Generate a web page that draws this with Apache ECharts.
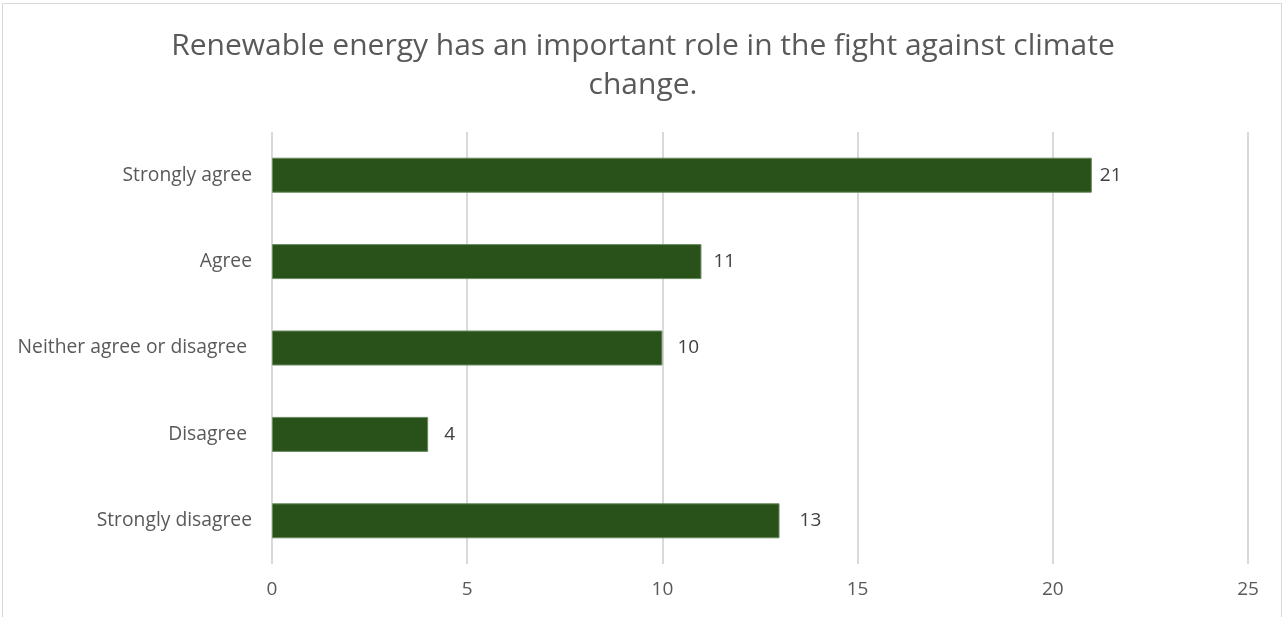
<!DOCTYPE html>
<html>
<head>
<meta charset="utf-8">
<script src="https://cdn.jsdelivr.net/npm/echarts@6/dist/echarts.min.js"></script>
<style>
  html, body { margin: 0; padding: 0; background: #fff; }
  #frame { position: absolute; left: 2px; top: 3px; width: 1280px; height: 620px; border: 1px solid #d9d9d9; box-sizing: border-box; }
  #chart { position: absolute; left: 0; top: 0; width: 1286px; height: 617px; }
</style>
</head>
<body>
<div id="frame"></div>
<div id="chart"></div>
<script>
// Survey responses, listed top to bottom
const categories = ['Strongly agree', 'Agree', 'Neither agree or disagree ', 'Disagree ', 'Strongly disagree'];
const responses = [21, 11, 10, 4, 13];
const xTicks = [0, 5, 10, 15, 20, 25];

// gap between each bar end and its value label (px)
const labelGap = [8, 12, 15, 16, 20];

const chart = echarts.init(document.getElementById('chart'), null, { renderer: 'canvas' });
const font = '"Open Sans", "Noto Sans", sans-serif';

chart.setOption({
  animation: false,
  backgroundColor: 'transparent',
  title: {
    text: 'Renewable energy has an important role in the fight against climate\nchange.',
    left: 'center',
    top: 22,
    textStyle: {
      fontFamily: font,
      fontSize: 30,
      fontWeight: 'normal',
      color: '#595959',
      lineHeight: 39,
      align: 'center'
    }
  },
  grid: { left: 272, right: 38, top: 132, bottom: 53, containLabel: false },
  xAxis: {
    type: 'value',
    min: xTicks[0],
    max: xTicks[xTicks.length - 1],
    interval: 5,
    axisLine: { show: false },
    axisTick: { show: false },
    splitLine: { show: true, lineStyle: { color: '#d9d9d9', width: 2 } },
    axisLabel: { color: '#595959', fontSize: 19, fontFamily: font, margin: 16 }
  },
  yAxis: {
    type: 'category',
    data: categories,
    inverse: true,
    axisLine: { show: false },
    axisTick: { show: false },
    axisLabel: { color: '#595959', fontSize: 19.3, fontFamily: font, margin: 20 }
  },
  series: [{
    type: 'bar',
    data: responses.map((v, i) => ({ value: v, label: { distance: labelGap[i] } })),
    barWidth: 35,
    itemStyle: { color: '#285219', borderColor: '#6b8a5e', borderWidth: 1 },
    label: {
      show: true,
      position: 'right',
      color: '#404040',
      fontSize: 19,
      fontFamily: font
    }
  }]
});
</script>
</body>
</html>
